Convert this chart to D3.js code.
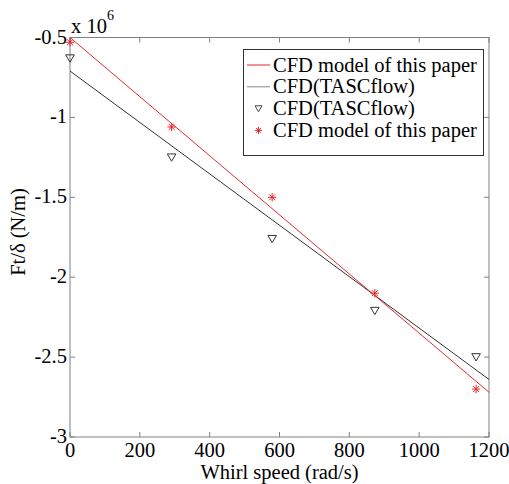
<!DOCTYPE html>
<html>
<head>
<meta charset="utf-8">
<script src="https://cdn.jsdelivr.net/npm/d3@7/dist/d3.min.js"></script>
</head>
<body style="margin:0;background:#fff">
<svg id="chart" width="509" height="484"></svg>
<script>
// Whirl speed (rad/s)
const whirlSpeed = [0, 291, 579, 873, 1163];
// Ft/delta in units of 1e6 N/m
const tascflowPts = [-0.63, -1.25, -1.76, -2.21, -2.50];
const paperModelPts = [-0.53, -1.06, -1.50, -2.10, -2.70];
// fitted lines, end points [x, y]
const tascflowLine = [[0, -0.71], [1200, -2.64]];
const paperModelLine = [[0, -0.50], [1200, -2.72]];

const xTicks = [0, 200, 400, 600, 800, 1000, 1200];
const yTicks = [-3, -2.5, -2, -1.5, -1, -0.5];
const yTickLabels = ["-3", "-2.5", "-2", "-1.5", "-1", "-0.5"];

const legendItems = [
  { label: "CFD model of this paper", kind: "line", color: "#e8262b" },
  { label: "CFD(TASCflow)", kind: "line", color: "#888" },
  { label: "CFD(TASCflow)", kind: "tri", color: "#444" },
  { label: "CFD model of this paper", kind: "star", color: "#e8262b" }
];

const svg = d3.select("#chart");
const L = 70, R = 489, T = 37.5, B = 437;
const x = d3.scaleLinear().domain([0, 1200]).range([L, R]);
const y = d3.scaleLinear().domain([-3, -0.5]).range([B, T]);
const axisColor = "#808080";
const fs = 20.5;

function txt(sel) {
  return sel.append("text").style("font-family", '"Liberation Serif"').attr("fill", "#000");
}

// axes box with inward ticks on all sides
const g = svg.append("g");
g.append("rect").attr("x", L).attr("y", T).attr("width", R - L).attr("height", B - T)
  .attr("fill", "none").attr("stroke", axisColor).attr("stroke-width", 1);

xTicks.forEach(v => {
  g.append("line").attr("x1", x(v)).attr("x2", x(v)).attr("y1", B).attr("y2", B - 5).attr("stroke", axisColor);
  g.append("line").attr("x1", x(v)).attr("x2", x(v)).attr("y1", T).attr("y2", T + 5).attr("stroke", axisColor);
});
yTicks.forEach(v => {
  g.append("line").attr("x1", L).attr("x2", L + 5).attr("y1", y(v)).attr("y2", y(v)).attr("stroke", axisColor);
  g.append("line").attr("x1", R).attr("x2", R - 5).attr("y1", y(v)).attr("y2", y(v)).attr("stroke", axisColor);
});

// tick labels
const xl = svg.append("g");
xTicks.forEach(v => {
  txt(xl).attr("x", x(v)).attr("y", 456.5).attr("text-anchor", "middle").attr("font-size", fs).text(v);
});
const yl = svg.append("g");
yTicks.forEach((v, i) => {
  txt(yl).attr("x", L - 3).attr("y", y(v) + 6).attr("text-anchor", "end").attr("font-size", fs).text(yTickLabels[i]);
});

// exponent
const ex = txt(svg).attr("x", 71).attr("y", 33).attr("font-size", fs);
ex.append("tspan").text("x 10");
ex.append("tspan").attr("dy", -13).attr("font-size", 14).text("6");

// axis titles
txt(svg).attr("x", (L + R) / 2).attr("y", 479).attr("text-anchor", "middle")
  .attr("font-size", fs).text("Whirl speed (rad/s)");
txt(svg).attr("transform", "translate(24.5,232) rotate(-90)").attr("text-anchor", "middle")
  .attr("font-size", fs).text("Ft/δ (N/m)");

// fitted lines
const line = d3.line().x(d => x(d[0])).y(d => y(d[1]));
const plot = svg.append("g");
plot.append("path").attr("d", line(tascflowLine)).attr("fill", "none").attr("stroke", "#333").attr("stroke-width", 1);
plot.append("path").attr("d", line(paperModelLine)).attr("fill", "none").attr("stroke", "#e8262b").attr("stroke-width", 1);

// markers
function triangle(sel, cx, cy, s, color) {
  sel.append("path")
    .attr("d", `M${cx - s},${cy - s * 0.8}L${cx + s},${cy - s * 0.8}L${cx},${cy + s * 0.9}Z`)
    .attr("fill", "none").attr("stroke", color).attr("stroke-width", 1);
}
function star(sel, cx, cy, s, color) {
  const d = s * 0.7;
  sel.append("path")
    .attr("d", `M${cx - s},${cy}L${cx + s},${cy}M${cx},${cy - s}L${cx},${cy + s}` +
               `M${cx - d},${cy - d}L${cx + d},${cy + d}M${cx - d},${cy + d}L${cx + d},${cy - d}`)
    .attr("fill", "none").attr("stroke", color).attr("stroke-width", 1);
}
whirlSpeed.forEach((w, i) => {
  triangle(plot, x(w), y(tascflowPts[i]), 4.3, "#333");
  star(plot, x(w), y(paperModelPts[i]), 4.2, "#e8262b");
});

// legend
const lg = svg.append("g");
const lx = 243.5, ly = 49.5, lw = 240, lh = 106;
lg.append("rect").attr("x", lx).attr("y", ly).attr("width", lw).attr("height", lh)
  .attr("fill", "#fff").attr("stroke", "#333").attr("stroke-width", 1);
legendItems.forEach((it, i) => {
  const cy = 65 + i * 21.8;
  if (it.kind === "line") {
    lg.append("line").attr("x1", 247).attr("x2", 270).attr("y1", cy).attr("y2", cy)
      .attr("stroke", it.color).attr("stroke-width", 1);
  } else if (it.kind === "tri") {
    triangle(lg, 258.5, cy, 3.5, it.color);
  } else {
    star(lg, 258.5, cy, 3.5, it.color);
  }
  txt(lg).attr("x", 273).attr("y", cy + 6.5).attr("font-size", fs).text(it.label);
});
</script>
</body>
</html>
